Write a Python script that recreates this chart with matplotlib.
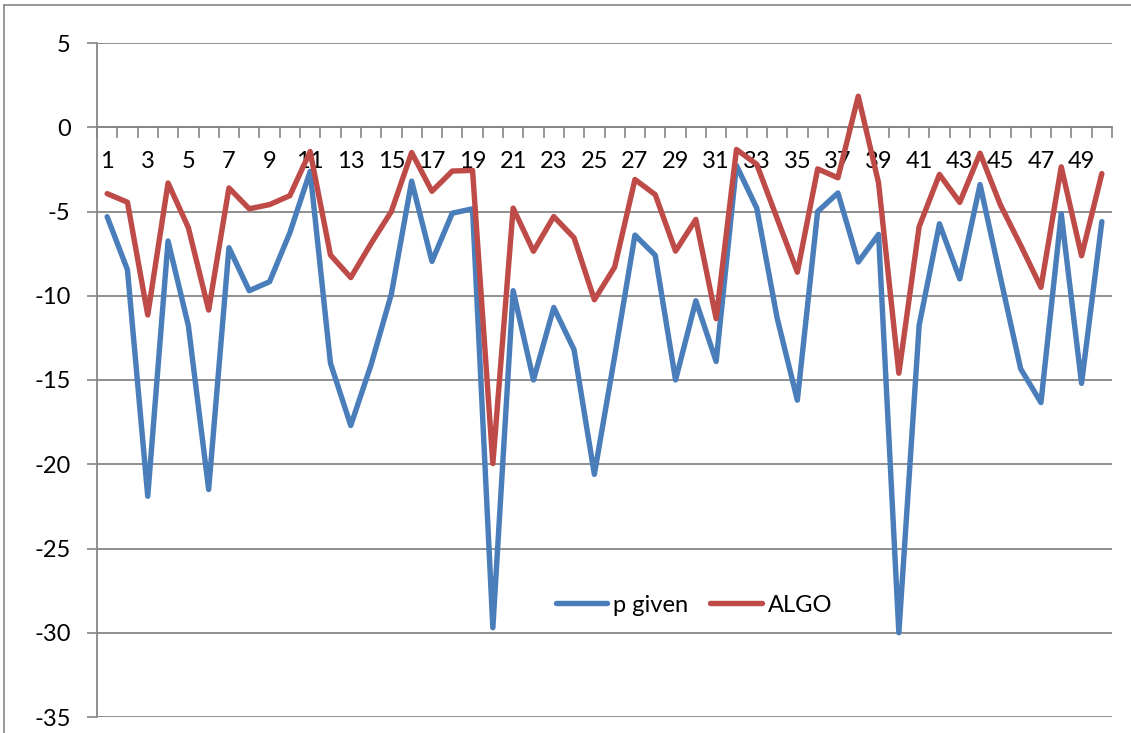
import matplotlib.pyplot as plt
from matplotlib.lines import Line2D

plt.rcParams['font.family'] = ['Lato', 'DejaVu Sans']
plt.rcParams['axes.unicode_minus'] = False

# values per run, 1..50
runs = list(range(1, 51))
p_given = [-5.31, -8.46, -21.9, -6.75, -11.77, -21.5, -7.15, -9.7, -9.17, -6.26,
           -2.62, -14.0, -17.7, -14.1, -9.9, -3.2, -7.96, -5.1, -4.84, -29.7,
           -9.7, -15.0, -10.7, -13.2, -20.6, -13.6, -6.4, -7.6, -15.0, -10.3,
           -13.9, -2.27, -4.8, -11.3, -16.2, -5.0, -3.9, -8.0, -6.36, -30.0,
           -11.75, -5.73, -9.0, -3.4, -8.9, -14.33, -16.34, -5.14, -15.2, -5.6]
algo = [-3.94, -4.45, -11.14, -3.31, -5.96, -10.85, -3.6, -4.84, -4.59, -4.06,
        -1.44, -7.58, -8.92, -6.9, -5.0, -1.5, -3.8, -2.6, -2.56, -19.96,
        -4.8, -7.36, -5.3, -6.56, -10.24, -8.3, -3.1, -4.0, -7.35, -5.47,
        -11.36, -1.32, -2.2, -5.4, -8.6, -2.47, -3.0, 1.84, -3.3, -14.6,
        -5.9, -2.8, -4.46, -1.54, -4.6, -7.0, -9.5, -2.35, -7.63, -2.75]
y_ticks = list(range(-35, 6, 5))

grid_col = '#868686'
fs = 17

fig = plt.figure(figsize=(11.31, 7.33), dpi=100)
ax = fig.add_axes([97 / 1131, 1 - 717 / 733, 1015 / 1131, 674 / 733])

ax.plot(runs, p_given, color='#4A7EBB', lw=3.9, solid_joinstyle='round',
        solid_capstyle='round', label='p given', zorder=3)
ax.plot(runs, algo, color='#BE4B48', lw=3.9, solid_joinstyle='round',
        solid_capstyle='round', label='ALGO', zorder=3)

ax.set_xlim(0.5, 50.5)
ax.set_ylim(-35, 5)

# horizontal grid
ax.set_yticks(y_ticks)
ax.set_yticklabels([str(v) for v in y_ticks], fontsize=fs)
ax.yaxis.grid(True, color=grid_col, lw=1.3)
ax.set_axisbelow(True)
ax.tick_params(axis='y', length=7, width=1.2, color=grid_col, pad=12)

# category axis crosses at zero, tick marks between categories
ax.spines['bottom'].set_position(('data', 0))
ax.spines['bottom'].set_color(grid_col)
ax.spines['bottom'].set_linewidth(1.3)
ax.spines['left'].set_color(grid_col)
ax.spines['left'].set_linewidth(1.3)
ax.spines['top'].set_visible(False)
ax.spines['right'].set_visible(False)

ax.set_xticks([i + 0.5 for i in range(0, 51)])
ax.set_xticklabels([])
ax.tick_params(axis='x', which='major', direction='out', length=8,
               width=1.2, color=grid_col)
ax.set_xticks(runs[::2], minor=True)
ax.set_xticklabels([str(r) for r in runs[::2]], minor=True, fontsize=fs)
ax.tick_params(axis='x', which='minor', length=0, pad=17)

ax.legend(loc='center', bbox_to_anchor=(0.588, 0.166), ncol=2, frameon=False,
          fontsize=fs, handlelength=2.2, handletextpad=0.25, columnspacing=0.9)

# outer chart border (top and left edges)
fig.add_artist(Line2D([4 / 1131, 4 / 1131], [0, 1 - 5 / 733], color=grid_col,
                      lw=1.2, transform=fig.transFigure))
fig.add_artist(Line2D([4 / 1131, 1], [1 - 5 / 733, 1 - 5 / 733], color=grid_col,
                      lw=1.2, transform=fig.transFigure))

fig.savefig('out.png', dpi=100)
